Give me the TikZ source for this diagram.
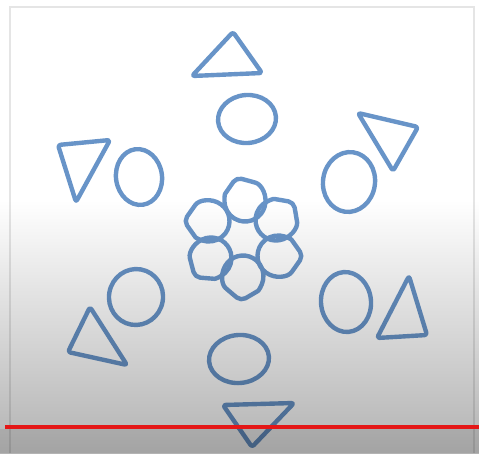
\documentclass[tikz,border=0pt]{standalone}
\definecolor{penblue}{RGB}{104,148,200}
\definecolor{barred}{RGB}{228,22,22}
\begin{document}
\begin{tikzpicture}[x=0.02cm, y=-0.02cm,
    hand/.style={draw=penblue, line width=2.5pt, line join=round, line cap=round}]
        \def\pR{20.5}
        \def\tW{1.5pt}
        % 背景和边框
        \useasboundingbox (0,0) rectangle (479,453);
        \fill[white] (0,0) rectangle (479,453);
        \draw[black!10, line width=0.6pt] (10,453) -- (10,7) -- (474,7) -- (474,453);
        % 绘制三角形
        \draw[hand, rounded corners=\tW] (233,32) -- (192,76) -- (262,73) -- cycle;
        \draw[hand, rounded corners=\tW] (358,113) -- (418,127) -- (393,171) -- cycle;
        \draw[hand, rounded corners=\tW] (58,145) -- (110,140) -- (76,202) -- cycle;
        \draw[hand, rounded corners=\tW] (90,307) -- (68,352) -- (127,365) -- cycle;
        \draw[hand, rounded corners=\tW] (409,276) -- (377,338) -- (427,335) -- cycle;
        \draw[hand, rounded corners=\tW] (223,405) -- (294,403) -- (252,447) -- cycle;
        % 绘制椭圆
        \draw[hand, rotate around={5:(247,119)}] (247,119) ellipse [x radius=29, y radius=24];
        \draw[hand, rotate around={-8:(349,182)}] (349,182) ellipse [x radius=26, y radius=30];
        \draw[hand, rotate around={8:(139,177)}] (139,177) ellipse [x radius=23, y radius=28];
        \draw[hand, rotate around={-10:(136,297)}] (136,297) ellipse [x radius=27, y radius=28];
        \draw[hand, rotate around={5:(346,302)}] (346,302) ellipse [x radius=25, y radius=30];
        \draw[hand, rotate around={5:(239,359)}] (239,359) ellipse [x radius=30, y radius=24];
        % 中间的花
        \foreach \px/\py/\tip in {245/201/110, 276/220/45, 278/256/0, 243/276/-95, 211/258/-130, 209/221/180} {
            \begin{scope}[shift={(\px,\py)}, rotate=\tip]
                \draw[hand, rounded corners=3pt] (1.22*\pR,0) -- (36:\pR)
                    arc[start angle=36, end angle=324, radius=\pR] -- cycle;
            \end{scope}
        }
        % 灰色渐变
        \shade[blend mode=multiply, top color=white, bottom color=black!30] (0,200) rectangle (479,453);
        \fill[black, opacity=0.08] (0,429) rectangle (479,453);
        % 红线
        \draw[barred, line width=2.2pt] (5,427) -- (479,427);
\end{tikzpicture}
\end{document}
